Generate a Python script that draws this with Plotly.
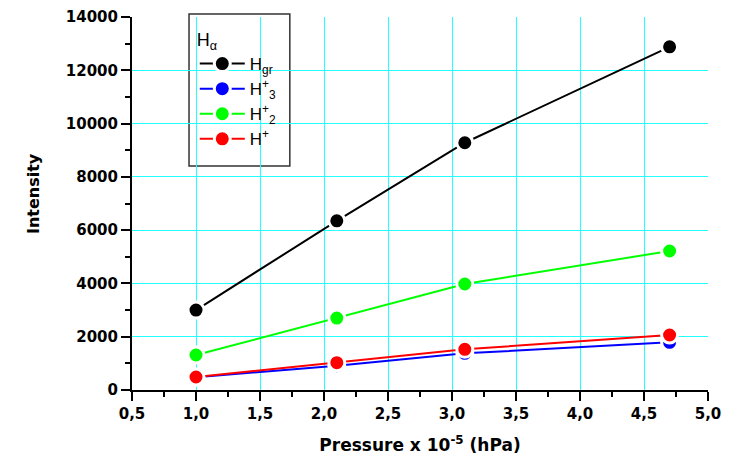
import plotly.graph_objects as go

pressure = [1.0, 2.1, 3.1, 4.7]
h_gr = [3000, 6350, 9280, 12880]
h3_plus = [476, 912, 1376, 1790]
h2_plus = [1313, 2700, 3978, 5217]
h_plus = [488, 1025, 1527, 2064]

series = [
    ("H<sub>gr</sub>", h_gr, "#000000"),
    ("H<sup>+</sup><sub>3</sub>", h3_plus, "#0000ff"),
    ("H<sup>+</sup><sub>2</sub>", h2_plus, "#00ff00"),
    ("H<sup>+</sup>", h_plus, "#ff0000"),
]

x_ticks = [0.5, 1.0, 1.5, 2.0, 2.5, 3.0, 3.5, 4.0, 4.5, 5.0]
y_ticks = [0, 2000, 4000, 6000, 8000, 10000, 12000, 14000]

fig = go.Figure()
for name, vals, col in series:
    fig.add_trace(go.Scatter(
        x=pressure, y=vals, name=name, mode="lines+markers",
        line=dict(color=col, width=2),
        marker=dict(color=col, size=16, line=dict(color="white", width=3)),
    ))

tickfont = dict(family="DejaVu Sans", size=15, color="black", weight="bold")
titlefont = dict(family="DejaVu Sans", size=17, color="black", weight="bold")

# legend frame
fig.add_shape(type="rect", xref="paper", yref="paper",
              x0=0.099, x1=0.274, y0=0.6005, y1=1.008,
              line=dict(color="#333333", width=1.5), fillcolor="white", layer="below")

# y axis title placed like the reference (slightly above centre)
fig.add_annotation(text="Intensity", xref="paper", yref="paper",
                   x=-0.170, y=0.5255, xanchor="center", yanchor="middle",
                   textangle=-90, showarrow=False,
                   font=dict(family="DejaVu Sans", size=16, color="black", weight="bold"))

# page body has an 8px default margin: margins compensate for it
fig.update_layout(
    width=737, height=456,
    margin=dict(l=124, r=37, t=9, b=74, autoexpand=False),
    plot_bgcolor="white", paper_bgcolor="white",
    separators=", ",
    showlegend=True,
    legend=dict(
        x=0.109, y=0.985, xanchor="left", yanchor="top",
        bgcolor="rgba(0,0,0,0)", borderwidth=0,
        font=dict(family="Liberation Sans", size=17, color="black"),
        title=dict(text="H<sub>α</sub>", font=dict(family="Liberation Sans", size=18, color="black")),
        tracegroupgap=0, itemwidth=45,
    ),
    xaxis=dict(
        range=[0.5, 5.0], tickvals=x_ticks, tickformat=".1f", automargin=False,
        showline=True, linecolor="black", linewidth=2,
        ticks="outside", ticklen=9, tickwidth=1.5, tickcolor="black",
        showgrid=True, gridcolor="#22ffff", gridwidth=1.2,
        zeroline=False, tickfont=tickfont,
        minor=dict(ticks="outside", ticklen=5, tickwidth=1.5, tickcolor="black", dtick=0.25, tick0=0.5, showgrid=False),
        title=dict(text="Pressure x 10<sup>-5</sup> (hPa)", font=titlefont, standoff=17),
    ),
    yaxis=dict(
        range=[0, 14000], tickvals=y_ticks, tickformat="d", automargin=False,
        showline=True, linecolor="black", linewidth=2,
        ticks="outside", ticklen=9, tickwidth=1.5, tickcolor="black",
        showgrid=True, gridcolor="#22ffff", gridwidth=1.2,
        zeroline=False, tickfont=tickfont,
        minor=dict(ticks="outside", ticklen=5, tickwidth=1.5, tickcolor="black", dtick=1000, tick0=0, showgrid=False),
    ),
)

fig.write_html("out.html")
